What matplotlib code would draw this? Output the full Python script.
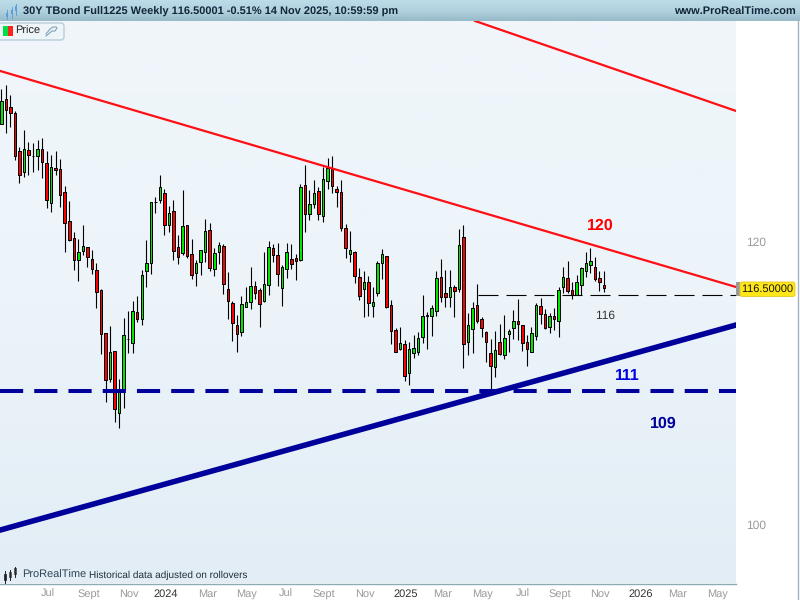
import numpy as np
import pandas as pd
import matplotlib
matplotlib.use('Agg')
import matplotlib.pyplot as plt
import matplotlib.dates as mdates
from matplotlib.colors import LinearSegmentedColormap
from matplotlib.patches import FancyBboxPatch, Rectangle

last_date = '2025-11-14'

opens = [
    129.67, 129.50, 131.58, 130.92, 130.42, 127.25, 125.55, 127.33, 126.87, 126.85,
    127.42, 126.28, 123.06, 125.88, 125.79, 123.94, 121.65, 120.32, 118.62, 119.30,
    119.61, 118.70, 117.87, 116.36, 113.18, 109.87, 111.89, 107.49, 109.09, 112.76,
    112.45, 114.72, 114.21, 117.79, 118.40, 123.15, 123.29, 123.86, 121.33, 122.43,
    119.61, 119.15, 121.33, 119.08, 117.64, 118.47, 119.23, 120.94, 117.94, 119.23,
    119.69, 116.43, 115.38, 113.77, 113.25, 115.09, 115.45, 116.66, 116.36, 115.53,
    116.73, 119.53, 119.00, 116.51, 117.94, 118.70, 118.78, 118.62, 124.50, 122.20,
    122.98, 124.02, 122.04, 124.83, 125.79, 124.18, 123.94, 121.10, 119.08, 119.23,
    117.34, 116.43, 116.96, 115.16, 116.13, 118.40, 118.93, 115.23, 113.40, 112.00,
    112.38, 110.30, 111.72, 111.82, 112.89, 114.45, 114.43, 114.79, 117.34, 116.13,
    115.83, 116.58, 116.43, 120.40, 112.52, 113.47, 115.23, 114.21, 113.25, 111.72,
    110.72, 112.52, 111.58, 113.10, 113.55, 114.06, 113.77, 112.52, 111.82, 112.96,
    115.16, 114.57, 113.62, 114.43, 114.06, 116.58, 117.26, 116.36, 115.98, 116.73,
    117.79, 118.25, 118.09, 117.26, 116.73]
closes = [
    130.50, 131.42, 130.67, 130.42, 126.85, 125.31, 127.42, 126.93, 126.83, 127.42,
    126.36, 123.29, 125.96, 125.71, 123.69, 121.49, 120.15, 118.62, 119.23, 119.69,
    118.85, 117.94, 116.20, 113.10, 109.80, 111.82, 107.76, 109.09, 113.03, 112.72,
    114.79, 114.21, 117.49, 118.40, 123.13, 123.11, 124.34, 121.33, 122.27, 119.30,
    118.85, 121.26, 118.93, 117.49, 118.40, 119.38, 120.87, 118.02, 119.15, 119.76,
    116.81, 115.53, 113.91, 113.10, 115.31, 115.45, 116.66, 116.13, 115.31, 116.81,
    119.61, 119.00, 117.57, 118.09, 119.23, 118.32, 118.55, 124.34, 122.20, 122.98,
    123.86, 122.20, 124.99, 125.88, 124.42, 123.94, 121.10, 119.53, 119.38, 117.41,
    115.90, 116.96, 115.38, 115.45, 118.40, 119.08, 115.09, 113.32, 111.82, 112.45,
    110.08, 112.00, 112.07, 112.81, 114.43, 114.41, 115.01, 117.26, 115.83, 115.83,
    116.58, 116.28, 119.76, 112.38, 113.77, 115.01, 114.06, 113.55, 112.52, 110.79,
    111.96, 111.65, 112.81, 113.32, 114.06, 113.84, 112.45, 112.00, 113.18, 115.23,
    114.57, 113.55, 114.43, 114.21, 116.36, 117.34, 116.28, 115.98, 116.96, 118.02,
    118.40, 118.55, 117.19, 116.96, 116.50]
highs = [
    131.25, 132.43, 132.77, 131.92, 130.58, 127.58, 129.00, 128.00, 127.91, 128.16,
    128.33, 127.25, 126.93, 127.25, 126.60, 124.42, 123.21, 120.79, 120.23, 121.33,
    119.61, 119.38, 118.40, 116.43, 113.18, 113.69, 111.89, 109.87, 114.28, 114.79,
    115.53, 115.90, 117.87, 120.15, 123.13, 123.53, 125.31, 124.18, 122.82, 123.29,
    120.54, 124.10, 121.33, 120.23, 118.62, 119.38, 121.80, 121.49, 119.53, 120.00,
    119.84, 117.72, 115.53, 114.50, 115.90, 116.58, 118.09, 117.04, 116.51, 119.23,
    120.07, 119.84, 119.92, 118.25, 119.92, 119.84, 119.08, 124.58, 126.12, 124.10,
    124.91, 124.34, 125.96, 126.68, 126.85, 124.42, 124.91, 121.41, 120.87, 119.30,
    118.02, 117.79, 117.41, 116.58, 118.55, 119.46, 118.93, 115.60, 113.55, 113.62,
    112.67, 112.52, 113.03, 113.25, 115.98, 114.72, 115.23, 117.79, 118.70, 117.87,
    117.87, 116.73, 121.02, 121.33, 114.65, 115.45, 116.81, 114.35, 113.32, 112.74,
    113.32, 113.84, 114.50, 113.47, 114.87, 115.68, 113.77, 113.03, 113.62, 115.38,
    115.75, 114.94, 114.65, 115.01, 116.58, 118.09, 118.55, 116.96, 117.49, 118.09,
    119.23, 119.53, 118.85, 117.79, 117.79]
lows = [
    128.58, 129.45, 128.75, 129.25, 126.52, 124.68, 125.15, 125.31, 125.55, 125.71,
    125.07, 122.66, 122.35, 125.31, 122.74, 119.23, 120.07, 117.87, 117.04, 119.00,
    118.09, 117.57, 115.01, 111.65, 108.24, 109.65, 106.87, 106.45, 107.83, 111.72,
    111.72, 113.99, 113.77, 116.58, 117.57, 122.27, 123.06, 120.54, 120.79, 118.62,
    118.32, 119.00, 118.78, 117.19, 116.66, 117.49, 118.47, 117.79, 117.41, 118.32,
    116.05, 114.21, 112.59, 111.82, 112.96, 115.05, 114.94, 115.68, 113.62, 115.45,
    115.98, 118.47, 116.66, 115.16, 117.26, 117.94, 117.11, 118.55, 120.79, 121.73,
    122.66, 121.73, 121.57, 124.18, 123.86, 122.74, 120.87, 118.78, 118.47, 116.89,
    115.60, 114.35, 114.43, 114.35, 115.90, 117.19, 115.01, 112.38, 111.80, 111.93,
    109.73, 109.45, 111.36, 111.58, 112.45, 112.00, 112.96, 114.43, 115.45, 115.09,
    115.09, 114.35, 116.20, 110.65, 111.58, 111.72, 113.91, 112.89, 111.08, 109.09,
    110.01, 111.58, 111.29, 111.82, 112.74, 112.67, 111.89, 110.79, 111.80, 112.67,
    113.84, 113.47, 113.18, 113.40, 112.89, 116.13, 116.13, 115.68, 115.98, 115.98,
    117.34, 117.64, 117.04, 116.28, 116.20]

# trend lines, date then price at each end
upper_dates = ['2023-04-26', '2026-06-06']
upper_prices = [133.98, 116.57]
top_dates = ['2025-04-29', '2026-06-06']
top_prices = [138.36, 130.57]
rising_dates = ['2023-04-26', '2026-06-06']
rising_prices = [99.67, 113.75]
support_price = 109.02
mid_start = '2025-05-03'
mid_price = 115.97

tick_dates = ['2023-07-09', '2023-09-10', '2023-11-11', '2024-01-07', '2024-03-11', '2024-05-11',
              '2024-07-11', '2024-09-07', '2024-11-10', '2025-01-11', '2025-03-10', '2025-05-11',
              '2025-07-12', '2025-09-07', '2025-11-08', '2026-01-10', '2026-03-07', '2026-05-08']
tick_labels = ['Jul', 'Sept', 'Nov', '2024', 'Mar', 'May', 'Jul', 'Sept', 'Nov', '2025', 'Mar', 'May',
               'Jul', 'Sept', 'Nov', '2026', 'Mar', 'May']

plt.rcParams['font.family'] = ['Liberation Sans', 'DejaVu Sans']
plt.rcParams['text.hinting'] = 'no_hinting'
plt.rcParams['text.hinting_factor'] = 1

W, H = 800, 600
fig = plt.figure(figsize=(8, 6), dpi=100, facecolor='white')

# background layer in pixels
bg = fig.add_axes([0, 0, 1, 1], zorder=0)
bg.set_xlim(0, W)
bg.set_ylim(H, 0)
bg.axis('off')
grad = np.linspace(0, 1, 256).reshape(-1, 1)
plot_cm = LinearSegmentedColormap.from_list('p', ['#f0f6fa', '#ecf4fa', '#e2edf5'])
bg.imshow(grad, cmap=plot_cm, extent=(0, 736, 583, 21), aspect='auto')
head_cm = LinearSegmentedColormap.from_list('h', ['#bcdce8', '#b2d2e0', '#97b9c8'])
bg.imshow(grad, cmap=head_cm, extent=(0, W, 21, 0), aspect='auto')
bg.set_xlim(0, W)
bg.set_ylim(H, 0)
bg.plot([0, 736], [583.5, 583.5], color='#8fa9b5', lw=1)
bg.plot([797.5, 797.5], [21, H], color='#9fb4bf', lw=1)

# chart
ax = fig.add_axes([0, 1 - 583 / H, 736 / W, (583 - 21) / H], zorder=1)
ax.patch.set_alpha(0)
for s in ax.spines.values():
    s.set_visible(False)

end = pd.Timestamp(last_date)
dates = pd.date_range(end=end, periods=len(opens), freq='7D')
x = mdates.date2num(dates)
o = np.array(opens)
c = np.array(closes)
up = c >= o

ax.set_yscale('log')
ax.vlines(x, lows, highs, color='black', lw=0.8, zorder=2)
ax.bar(x, np.abs(c - o), bottom=np.minimum(o, c), width=3.9,
       color=np.where(up, '#00e600', '#ff0000'), edgecolor='black', linewidth=0.72, zorder=3)

def dn(values):
    return mdates.date2num(pd.to_datetime(values))

ax.plot(dn(upper_dates), upper_prices, color='#ff0f14', lw=1.6, zorder=5)
ax.plot(dn(top_dates), top_prices, color='#ff0f14', lw=1.6, zorder=5)
ax.plot(dn(rising_dates), rising_prices, color='#00009b', lw=4, zorder=5)
xlim = (mdates.date2num(end - pd.Timedelta(days=933)), mdates.date2num(end + pd.Timedelta(days=204)))
ax.plot(xlim, [support_price, support_price], color='#00009b', lw=2.9,
        linestyle=(0, (5.75, 2.75)), dash_capstyle='butt', zorder=6)
ax.plot([dn([mid_start])[0], xlim[1]], [mid_price, mid_price], color='black', lw=0.8,
        linestyle=(0, (18, 7.2)), dash_capstyle='butt', zorder=4)

ax.set_xlim(xlim)
ax.set_ylim(96.33, 138.36)
ax.yaxis.tick_right()
ax.set_yticks([100, 120])
ax.set_yticklabels(['100', '120'])
ax.minorticks_off()
ax.tick_params(axis='y', length=0, pad=7, labelsize=8.3, labelcolor='#9a9a9a')
ax.set_xticks(dn(tick_dates))
ax.set_xticklabels(tick_labels)
ax.tick_params(axis='x', length=0, pad=4, labelsize=7.9, labelcolor='#9a9a9a')
for lab in ax.get_xticklabels():
    if lab.get_text().startswith('20'):
        lab.set_color('#333333')

# overlay: header, legend, labels
ov = fig.add_axes([0, 0, 1, 1], zorder=2)
ov.set_xlim(0, W)
ov.set_ylim(H, 0)
ov.axis('off')

ov.text(23, 12, '30Y TBond Full1225 Weekly 116.50001 -0.51% 14 Nov 2025, 10:59:59 pm',
        fontsize=7.95, fontweight='bold', color='#12263a', va='center')
ov.text(796, 12, 'www.ProRealTime.com', fontsize=7.95, fontweight='bold', color='#12263a',
        va='center', ha='right')

# little logo candles in the header
for lx, y0, y1, y2, y3 in [(7, 10, 13, 17, 19), (12, 7, 10, 14, 18), (16, 4, 6, 11, 15)]:
    ov.plot([lx, lx], [y0, y3], color='#5aa0d8', lw=0.7)
    ov.add_patch(Rectangle((lx - 1.3, y1), 2.6, y2 - y1, fc='#5aa0d8', ec='none'))

# Price legend box
ov.add_patch(FancyBboxPatch((-4, 23), 68, 17, boxstyle='round,pad=0,rounding_size=3',
                            fc='#eef5f9', ec='#a9c4d2', lw=0.8))
ov.add_patch(Rectangle((3, 26), 4.5, 10, fc='#00e040', ec='none'))
ov.add_patch(Rectangle((7.5, 26), 5, 10, fc='#ff2020', ec='none'))
ov.text(15, 31.5, 'Price', fontsize=8, color='#222222', va='center')
ov.plot([46, 52, 55, 57, 56, 53, 50, 46], [36, 31, 31, 28, 27, 27, 29, 34], color='#7fa2b6', lw=0.8)

# levels
ov.text(600, 226, '120', fontsize=11.5, fontweight='bold', color='#ff0000', ha='center', va='center')
ov.text(605, 315.5, '116', fontsize=8.7, color='#333333', ha='center', va='center')
ov.text(627, 375.5, '111', fontsize=11.5, fontweight='bold', color='#0000e0', ha='center', va='center')
ov.text(663, 423.5, '109', fontsize=11.5, fontweight='bold', color='#00009b', ha='center', va='center')

# last price tag
ov.add_patch(Rectangle((736, 282), 4, 14, fc='#9a9a9a', ec='none'))
ov.add_patch(FancyBboxPatch((740, 282), 55, 14.5, boxstyle='round,pad=0,rounding_size=2',
                            fc='#ffe619', ec='#e0c820', lw=0.6))
ov.text(767.5, 289.5, '116.50000', fontsize=8, color='#111111', ha='center', va='center')

# footer
for lx, y0, y1, y2, y3, fc in [(5, 571, 574, 580, 583, '#111111'), (10, 570, 572, 577, 580, 'white'),
                               (15, 567, 568, 574, 577, 'white')]:
    ov.plot([lx, lx], [y0, y3], color='#222222', lw=0.7)
    ov.add_patch(Rectangle((lx - 1.3, y1), 2.6, y2 - y1, fc=fc, ec='#222222', lw=0.5))
ov.text(22, 575, 'ProRealTime', fontsize=7.8, color='#2e4456', va='center')
ov.text(89, 575, 'Historical data adjusted on rollovers', fontsize=7.4, color='#222e38', va='center')

fig.savefig('out.png', dpi=100)
